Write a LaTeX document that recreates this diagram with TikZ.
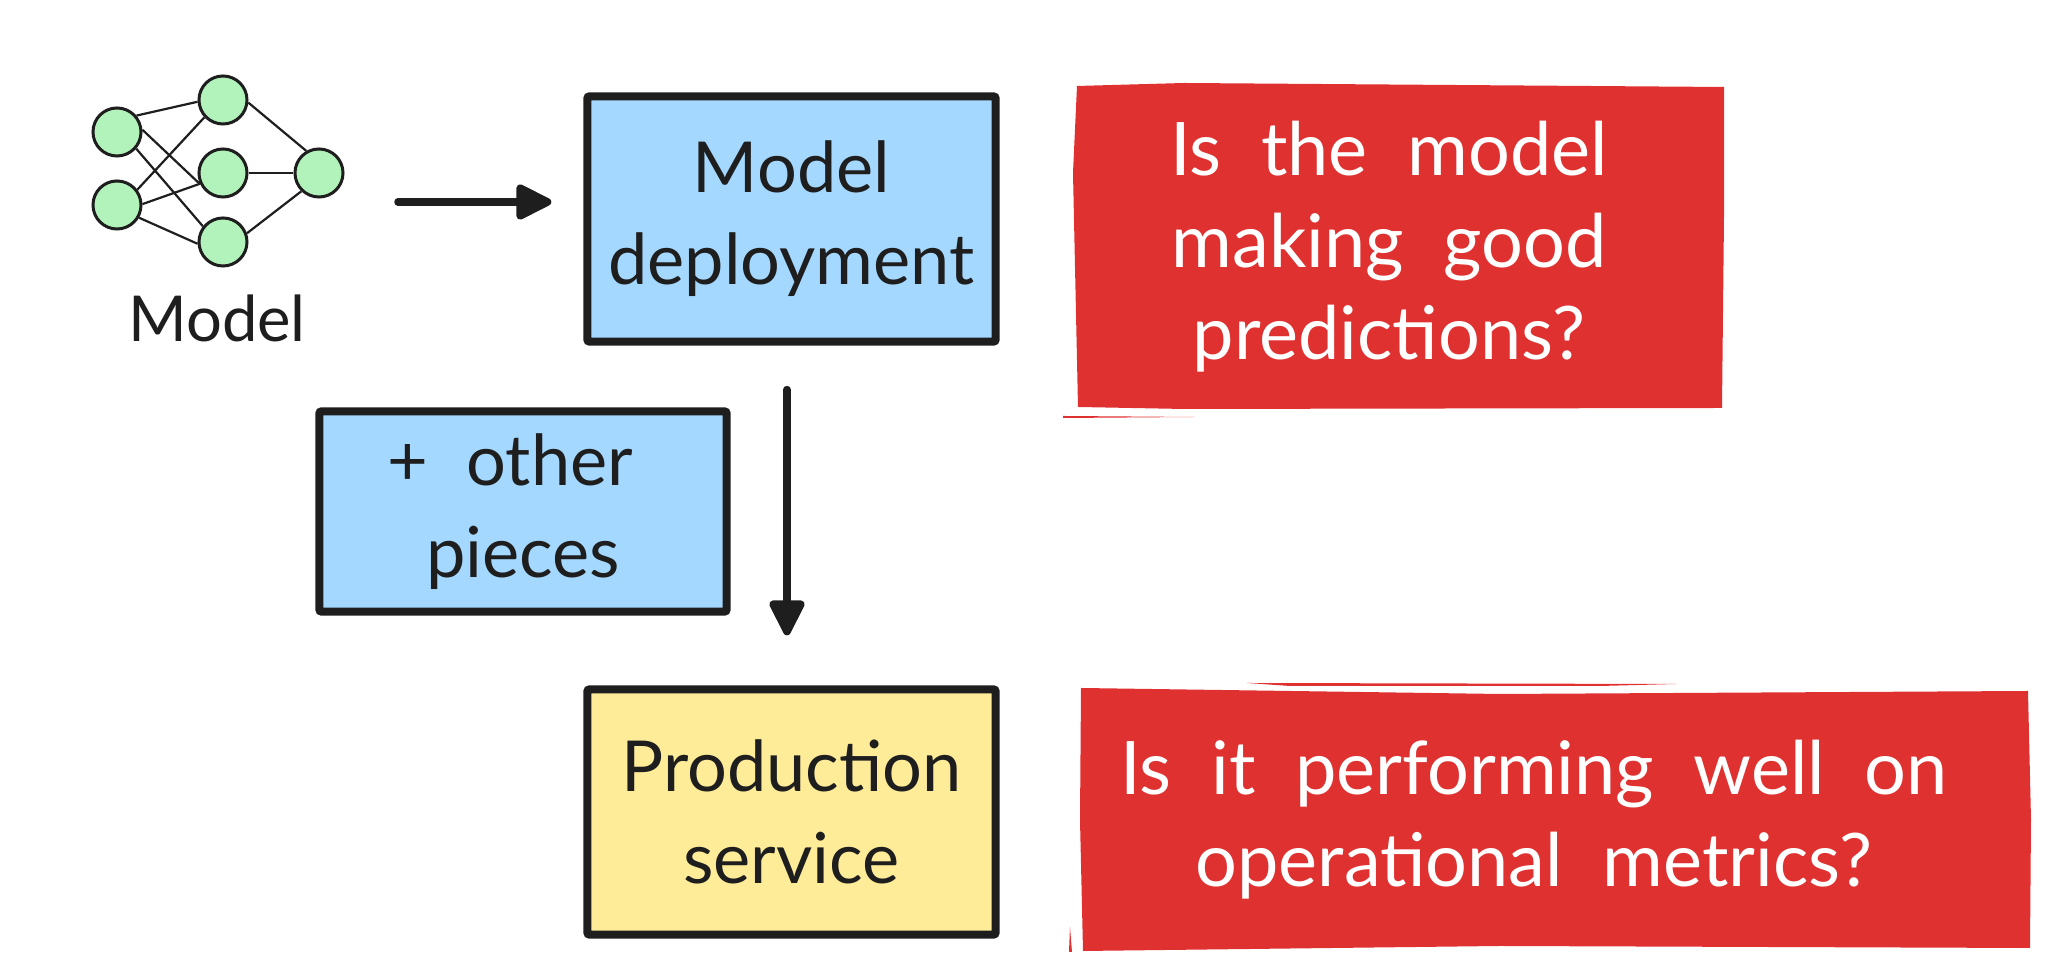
\documentclass[tikz,border=0pt]{standalone}
\usepackage{fontspec}
\setmainfont{Lato}[WordSpace=2.1]
\usepackage{tikz}
\usetikzlibrary{arrows.meta}
\definecolor{inkblack}{HTML}{1E1E1E}
\definecolor{boxblue}{HTML}{A5D8FF}
\definecolor{boxyellow}{HTML}{FFEC99}
\definecolor{neurongreen}{HTML}{B2F2BB}
\definecolor{alertred}{HTML}{E03131}

\begin{document}
\begin{tikzpicture}[x=0.01cm, y=-0.01cm,
    neuron/.style={circle, draw=inkblack, fill=neurongreen, line width=0.03cm, minimum size=0.48cm, inner sep=0pt},
    link/.style={draw=inkblack, line width=0.022cm},
    stagebox/.style={draw=inkblack, line width=0.08cm, rounded corners=0.02cm, inner sep=0pt, align=center, text=inkblack,
      font=\fontsize{20}{26.2}\selectfont},
    question/.style={text=white, align=center, inner sep=0pt, font=\fontsize{21}{26.2}\selectfont},
    bigarrow/.style={draw=inkblack, line width=0.075cm, line cap=round,
      -{Triangle[length=0.4cm, width=0.38cm, round]}}]
    \useasboundingbox (0,0) rectangle (2053,974);

    % Network
    \node[neuron] (inA) at (117,132) {};
    \node[neuron] (inB) at (117,205) {};
    \node[neuron] (hiddenA) at (223,100) {};
    \node[neuron] (hiddenB) at (223,173) {};
    \node[neuron] (hiddenC) at (223,242) {};
    \node[neuron] (outA) at (319,173) {};
    \foreach \a/\s/\b/\e in {inA/40/hiddenA/184, inA/5/hiddenB/206, inA/-41/hiddenC/142,
        inB/37/hiddenA/223, inB/2/hiddenB/205, inB/-30/hiddenC/184,
        hiddenA/-6/outA/120, hiddenB/0/outA/180, hiddenC/20/outA/226}
      \draw[link] (\a.\s) -- (\b.\e);
    \node[text=inkblack, font=\fontsize{18}{26.2}\selectfont] (modellabel) at (217,318) {Model};

    % Stages
    \node[stagebox, fill=boxblue, minimum width=4.08cm, minimum height=2.45cm] (deploy) at (791.5,219) {Model\\deployment};
    \node[stagebox, fill=boxblue, minimum width=4.07cm, minimum height=2cm] (pieces) at (523,511.5) {\hspace*{-0.25cm}+ other\\pieces};
    \node[stagebox, fill=boxyellow, minimum width=4.08cm, minimum height=2.45cm] (service) at (791.5,812) {Production\\service};

    % Arrows
    \coordinate (modelout) at (398,202);
    \draw[bigarrow, shorten >=0.32cm] (modelout) -- (modelout -| deploy.west);
    \draw[bigarrow, shorten <=0.44cm, shorten >=0.5cm]
    ([xshift=-0.045cm]deploy.south) -- ([xshift=-0.045cm]service.north);

    % Questions
    \fill[alertred] (1077,86) -- (1184,83) -- (1724,87) -- (1724,217) -- (1722,408) -- (1184,409) -- (1078,407) -- (1073,173) -- cycle;
    \fill[alertred] (1063,416) -- (1195,417) -- (1063,418) -- cycle;
    \node[question] (questionA) at (1389,247) {Is the model\\making good\\predictions?};
    \fill[alertred] (1081,688) -- (1500,694) -- (2028,691) -- (2031,820) -- (2030,948) -- (1500,946) -- (1083,951) -- (1080,820) -- cycle;
    \fill[alertred] (1247,683) -- (1676,684) -- (1600,686) -- (1290,686) -- cycle;
    \fill[alertred] (1069,952) -- (1070,927) -- (1072,952) -- cycle;
    \node[question] (questionB) at (1534,820) {Is it performing well on\\operational metrics?};
  \end{tikzpicture}
\end{document}
